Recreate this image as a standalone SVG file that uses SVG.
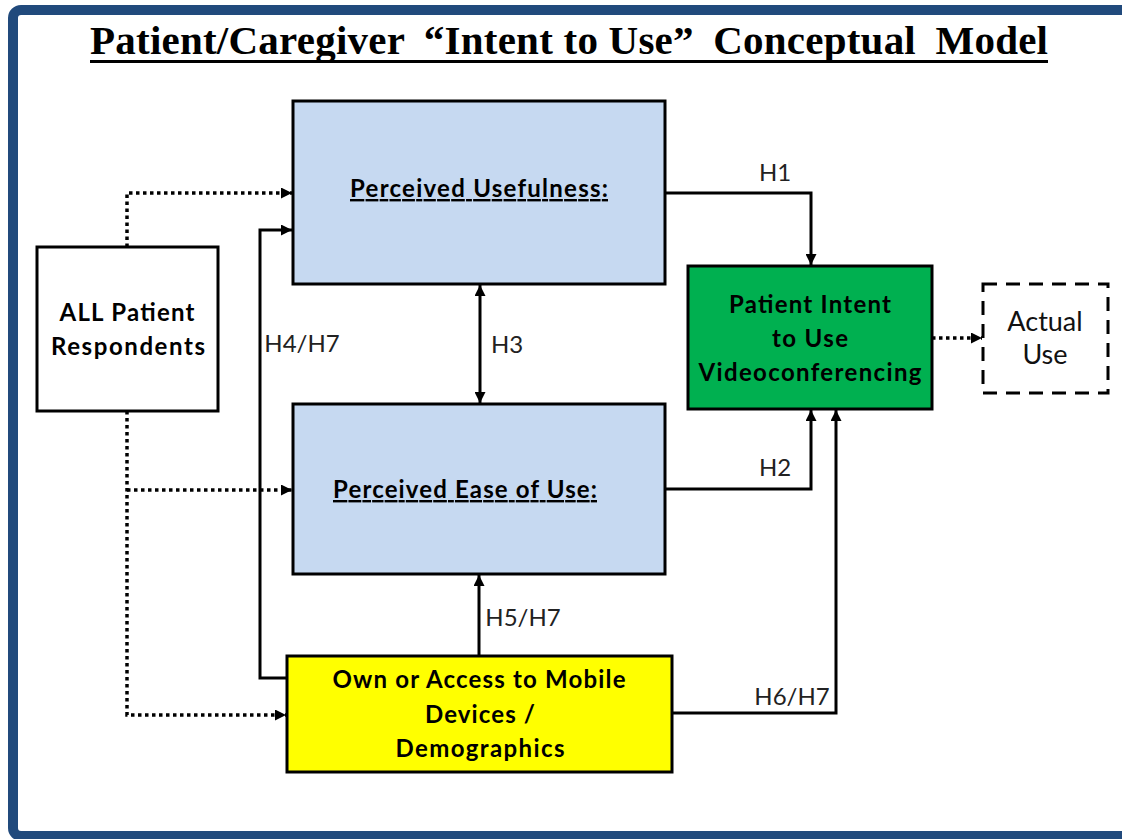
<svg xmlns="http://www.w3.org/2000/svg" width="1122" height="839" viewBox="0 0 1122 839">
<style>
.box{stroke:#000;stroke-width:3}
.lbl{font-family:Lato,"Liberation Sans",sans-serif;font-size:24px;fill:#222;text-anchor:middle}
.au{font-family:Lato,"Liberation Sans",sans-serif;font-size:27px;fill:#111;text-anchor:middle}
.bt{font-family:Lato,"Liberation Sans",sans-serif;font-size:24px;font-weight:bold;fill:#000;text-anchor:middle}
.solid{fill:none;stroke:#000;stroke-width:3}
.dot{fill:none;stroke:#000;stroke-width:3.5;stroke-dasharray:3.5 3.5}
</style>
<defs>
<marker id="ah" viewBox="0 0 10 10" refX="10" refY="5" markerWidth="12" markerHeight="11" markerUnits="userSpaceOnUse" orient="auto-start-reverse">
<path d="M0,0 L10,5 L0,10 z" fill="#000"/>
</marker>
</defs>
<rect x="0" y="0" width="1122" height="839" fill="#fff"/>
<rect x="13" y="10" width="1125" height="826" rx="8" fill="#fff" stroke="#214A7C" stroke-width="10"/>
<g id="title">
<text x="90" y="54" font-family="'Liberation Serif',serif" font-size="41" font-weight="bold" textLength="958" lengthAdjust="spacing">Patient/Caregiver<tspan dx="9"> “Intent to Use”</tspan><tspan dx="9"> Conceptual</tspan><tspan dx="9"> Model</tspan></text>
<rect x="90" y="60" width="958" height="3" fill="#000"/>
</g>
<g id="connectors">
<path class="dot" d="M127,247 V193 H292" marker-end="url(#ah)"/>
<path class="dot" d="M127,411 V715 H286" marker-end="url(#ah)"/>
<path class="dot" d="M127,490 H292" marker-end="url(#ah)"/>
<path class="solid" d="M287,678 H260 V230 H292" marker-end="url(#ah)"/>
<path class="solid" d="M665,193 H811 V265" marker-end="url(#ah)"/>
<path class="solid" d="M480,285 V403" marker-start="url(#ah)" marker-end="url(#ah)"/>
<path class="solid" d="M665,489 H811 V410" marker-end="url(#ah)"/>
<path class="solid" d="M479,656 V575" marker-end="url(#ah)"/>
<path class="solid" d="M672,713 H836 V410" marker-end="url(#ah)"/>
<path class="dot" d="M932,338 H982" marker-end="url(#ah)"/>
<text class="lbl" x="775" y="181">H1</text>
<text class="lbl" x="775" y="476">H2</text>
<text class="lbl" x="507" y="353">H3</text>
<text class="lbl" x="302" y="352">H4/H7</text>
<text class="lbl" x="523" y="626">H5/H7</text>
<text class="lbl" x="792" y="705">H6/H7</text>
</g>
<g id="all-respondents">
<rect class="box" x="37" y="247" width="181" height="164" fill="#fff"/>
<text class="bt" x="127" y="321" textLength="135" lengthAdjust="spacing">ALL Patient</text>
<text class="bt" x="128" y="355" textLength="154" lengthAdjust="spacing">Respondents</text>
</g>
<g id="usefulness">
<rect class="box" x="293" y="101" width="372" height="183" fill="#C6D9F1"/>
<text class="bt" x="479" y="197" text-decoration="underline" textLength="258" lengthAdjust="spacing">Perceived Usefulness:</text>
</g>
<g id="ease">
<rect class="box" x="293" y="404" width="372" height="170" fill="#C6D9F1"/>
<text class="bt" x="465" y="498" text-decoration="underline" textLength="264" lengthAdjust="spacing">Perceived Ease of Use:</text>
</g>
<g id="intent">
<rect class="box" x="688" y="266" width="244" height="143" fill="#00B050"/>
<text class="bt" x="810" y="313" textLength="162" lengthAdjust="spacing">Patient Intent</text>
<text class="bt" x="810" y="347" textLength="76" lengthAdjust="spacing">to Use</text>
<text class="bt" x="810" y="381" textLength="223" lengthAdjust="spacing">Videoconferencing</text>
</g>
<g id="actual-use">
<rect x="983" y="284" width="125" height="109" fill="#fff" stroke="#000" stroke-width="3" stroke-dasharray="14 9"/>
<text class="au" x="1045" y="331">Actual</text>
<text class="au" x="1045" y="364">Use</text>
</g>
<g id="mobile">
<rect class="box" x="287" y="656" width="385" height="116" fill="#FFFF00"/>
<text class="bt" x="479" y="688" textLength="293" lengthAdjust="spacing">Own or Access to Mobile</text>
<text class="bt" x="480" y="723" textLength="110" lengthAdjust="spacing">Devices /</text>
<text class="bt" x="480" y="757" textLength="169" lengthAdjust="spacing">Demographics</text>
</g>
</svg>
